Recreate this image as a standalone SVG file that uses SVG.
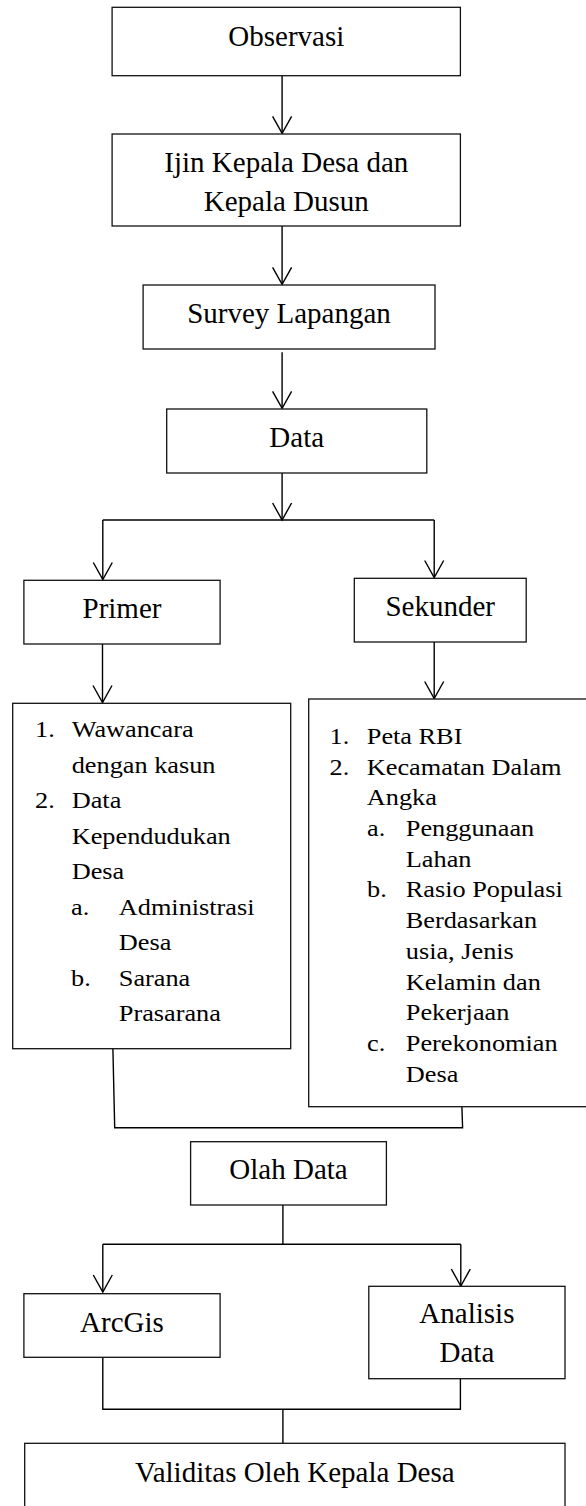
<svg xmlns="http://www.w3.org/2000/svg" width="586" height="1506" viewBox="0 0 586 1506">
<style>
.box{fill:#fff;stroke:#111;stroke-width:1.3}
.lbl{font-family:"Liberation Serif","Times New Roman",serif;font-size:29px;fill:#000;text-anchor:middle}
.lst{font-family:"Liberation Serif","Times New Roman",serif;font-size:23.9px;fill:#000}
.con{fill:none;stroke:#000;stroke-width:1.4}
</style>
<defs>
<marker id="arr" markerUnits="userSpaceOnUse" markerWidth="22" markerHeight="24" viewBox="-19 -12 22 24" refX="0" refY="0" orient="auto">
<path d="M-17,-9.5 L0,0 L-17,9.5" fill="none" stroke="#000" stroke-width="1.4"/>
</marker>
</defs>
<rect width="586" height="1506" fill="#fff"/>

<g id="connectors">
<path class="con" d="M282.1,75.7 V133.3" marker-end="url(#arr)"/>
<path class="con" d="M282.1,226 V284.3" marker-end="url(#arr)"/>
<path class="con" d="M282.1,352.3 V408.3" marker-end="url(#arr)"/>
<path class="con" d="M282.1,473 V520" marker-end="url(#arr)"/>
<path class="con" d="M102.8,520 H434.2"/>
<path class="con" d="M102.8,520 V579.5" marker-end="url(#arr)"/>
<path class="con" d="M434.2,520 V577.5" marker-end="url(#arr)"/>
<path class="con" d="M102.5,644 V702.5" marker-end="url(#arr)"/>
<path class="con" d="M434.2,642 V698.5" marker-end="url(#arr)"/>
<path class="con" d="M112.9,1048.7 L114.7,1127.7 H462.6 L461.9,1106.7"/>
<path class="con" d="M282.9,1205 V1244.3"/>
<path class="con" d="M102.8,1244.3 H460.8"/>
<path class="con" d="M102.8,1244.3 V1292" marker-end="url(#arr)"/>
<path class="con" d="M460.8,1244.3 V1286" marker-end="url(#arr)"/>
<path class="con" d="M102.8,1357.3 V1409.3 H460.4 V1378.7"/>
<path class="con" d="M282.9,1409.3 V1443.3"/>
</g>

<g id="observasi">
<rect class="box" x="112.1" y="7.3" width="348.3" height="68.4"/>
<text class="lbl" x="286.3" y="45.7">Observasi</text>
</g>

<g id="ijin">
<rect class="box" x="112.1" y="134" width="348.3" height="92"/>
<text class="lbl" x="286.3" y="171.7">Ijin Kepala Desa dan</text>
<text class="lbl" x="286.3" y="210.7">Kepala Dusun</text>
</g>

<g id="survey">
<rect class="box" x="143.1" y="285" width="291.9" height="64"/>
<text class="lbl" x="289" y="322.7">Survey Lapangan</text>
</g>

<g id="data">
<rect class="box" x="166.7" y="409" width="260.1" height="64"/>
<text class="lbl" x="296.7" y="446.7">Data</text>
</g>

<g id="primer">
<rect class="box" x="23.9" y="580.3" width="196.2" height="63.7"/>
<text class="lbl" x="122" y="618.3">Primer</text>
</g>

<g id="sekunder">
<rect class="box" x="354.3" y="578.3" width="171.9" height="63.7"/>
<text class="lbl" x="440.2" y="615.7">Sekunder</text>
</g>

<g id="primer-list">
<rect class="box" x="12.7" y="703.3" width="278" height="345.4"/>
<g transform="scale(1.1,1)">
<text class="lst" x="31.82" y="737.5">1.</text>
<text class="lst" x="65.18" y="737.5">Wawancara</text>
<text class="lst" x="65.18" y="773">dengan kasun</text>
<text class="lst" x="31.82" y="808.5">2.</text>
<text class="lst" x="65.18" y="808.5">Data</text>
<text class="lst" x="65.18" y="844">Kependudukan</text>
<text class="lst" x="65.18" y="879.5">Desa</text>
<text class="lst" x="64.55" y="915">a.</text>
<text class="lst" x="108" y="915">Administrasi</text>
<text class="lst" x="108" y="950.5">Desa</text>
<text class="lst" x="64.55" y="986">b.</text>
<text class="lst" x="108" y="986">Sarana</text>
<text class="lst" x="108" y="1021.5">Prasarana</text>
</g>
</g>

<g id="sekunder-list">
<rect class="box" x="308.7" y="699" width="300" height="407.7"/>
<g transform="scale(1.1,1)">
<text class="lst" x="299.55" y="744">1.</text>
<text class="lst" x="333.45" y="744">Peta RBI</text>
<text class="lst" x="299.55" y="774.7">2.</text>
<text class="lst" x="333.45" y="774.7">Kecamatan Dalam</text>
<text class="lst" x="333.45" y="805.4">Angka</text>
<text class="lst" x="333.64" y="836.1">a.</text>
<text class="lst" x="368.91" y="836.1">Penggunaan</text>
<text class="lst" x="368.91" y="866.8">Lahan</text>
<text class="lst" x="333.64" y="897.5">b.</text>
<text class="lst" x="368.91" y="897.5">Rasio Populasi</text>
<text class="lst" x="368.91" y="928.2">Berdasarkan</text>
<text class="lst" x="368.91" y="958.9">usia, Jenis</text>
<text class="lst" x="368.91" y="989.6">Kelamin dan</text>
<text class="lst" x="368.91" y="1020.3">Pekerjaan</text>
<text class="lst" x="333.64" y="1051">c.</text>
<text class="lst" x="368.91" y="1051">Perekonomian</text>
<text class="lst" x="368.91" y="1081.7">Desa</text>
</g>
</g>

<g id="olah-data">
<rect class="box" x="190.6" y="1141.7" width="195.8" height="63.3"/>
<text class="lbl" x="288.5" y="1179">Olah Data</text>
</g>

<g id="arcgis">
<rect class="box" x="23.9" y="1293.7" width="196.2" height="63.6"/>
<text class="lbl" x="122" y="1331.7">ArcGis</text>
</g>

<g id="analisis-data">
<rect class="box" x="368.8" y="1286.3" width="196.2" height="92.4"/>
<text class="lbl" x="466.9" y="1323.3">Analisis</text>
<text class="lbl" x="466.9" y="1362.3">Data</text>
</g>

<g id="validitas">
<rect class="box" x="24.7" y="1443.3" width="540.3" height="80"/>
<text class="lbl" x="294.8" y="1481.7">Validitas Oleh Kepala Desa</text>
</g>
</svg>
